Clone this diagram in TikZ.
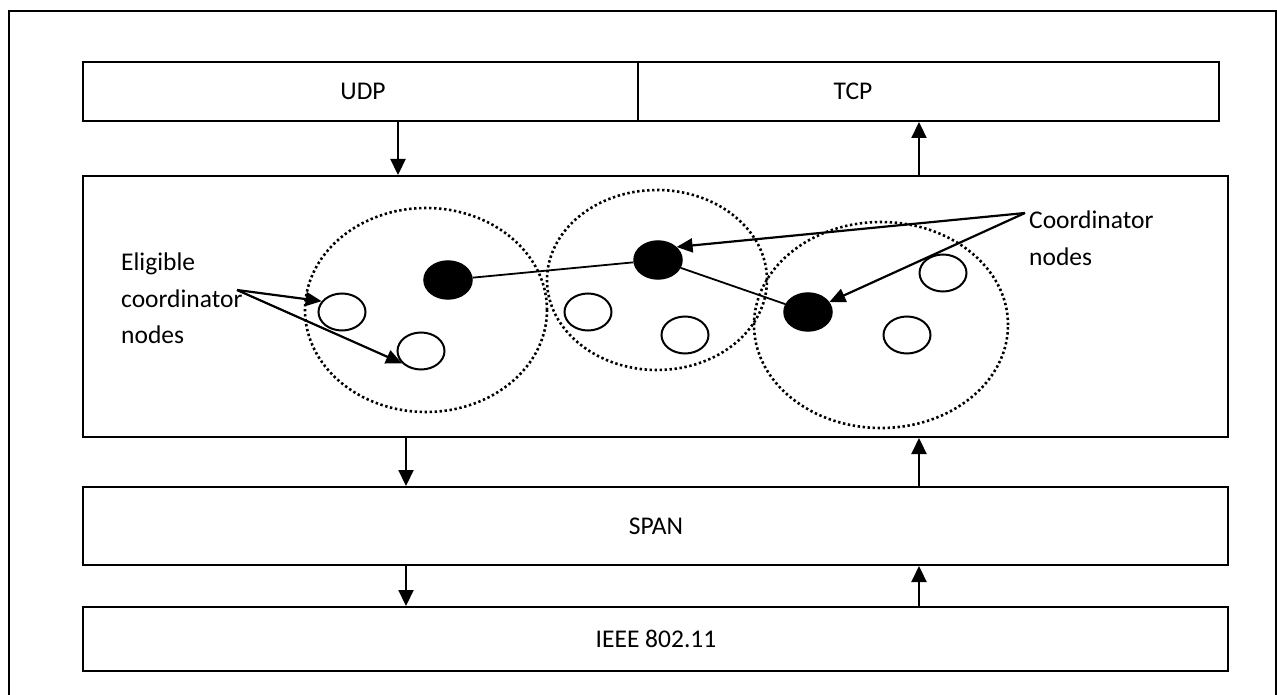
\documentclass[tikz,border=0pt]{standalone}
\usepackage{fontspec}
\setmainfont{Carlito}
\usetikzlibrary{shapes.geometric,arrows.meta}
\begin{document}
\begin{tikzpicture}[x=1pt,y=-1pt,
  box/.style={draw,line width=2pt,rectangle,inner sep=0pt},
  lbl/.style={font=\fontsize{25.5}{36.5}\selectfont,inner sep=0pt},
  ring/.style={draw,ellipse,line width=2.6pt,dash pattern=on 2.4pt off 2.6pt,inner sep=0pt},
  full/.style={ellipse,fill=black,draw,line width=1.5pt,minimum width=48pt,minimum height=38pt,inner sep=0pt},
  empty/.style={ellipse,draw,line width=2pt,minimum width=47pt,minimum height=37pt,inner sep=0pt},
  vflow/.style={line width=2.2pt,-{Triangle[length=16pt,width=15pt]}},
  pointer/.style={line width=2.2pt,-{Triangle[length=16pt,width=14pt]}},
  link/.style={line width=1.8pt}]
\useasboundingbox (0,0) rectangle (1277,695);
% outer frame (open at bottom)
\draw[line width=2pt] (9,696) -- (9,11) -- (1276,11) -- (1276,696);
% layers
\node[box,minimum width=555pt,minimum height=59pt] (udp) at (360.5,91.5) {};
\node[box,minimum width=581pt,minimum height=59pt] (tcp) at (928.5,91.5) {};
\node[box,minimum width=1145pt,minimum height=261pt] (mid) at (655.5,306.5) {};
\node[box,minimum width=1145pt,minimum height=78pt] (span) at (655.5,526) {};
\node[box,minimum width=1145pt,minimum height=64pt] (ieee) at (655.5,639) {};
\node[lbl] (tudp) at (363,91) {UDP};
\node[lbl] (ttcp) at (853,91) {TCP};
\node[lbl] (tspan) at (656,526) {SPAN};
\node[lbl] (tieee) at (656,639) {IEEE 802.11};
% vertical arrows
\coordinate (xa) at (398,0);
\coordinate (xb) at (406,0);
\coordinate (xc) at (919,0);
\draw[vflow] (udp.south -| xa) -- (mid.north -| xa);
\draw[vflow] (mid.north -| xc) -- (tcp.south -| xc);
\draw[vflow] (mid.south -| xb) -- (span.north -| xb);
\draw[vflow] (span.north -| xc) -- (mid.south -| xc);
\draw[vflow] (span.south -| xb) -- (ieee.north -| xb);
\draw[vflow] (ieee.north -| xc) -- (span.south -| xc);
% dotted ranges
\node[ring,minimum width=242pt,minimum height=204pt] (r1) at (426,310) {};
\node[ring,minimum width=220pt,minimum height=180pt] (r2) at (657,280) {};
\node[ring,minimum width=254pt,minimum height=206pt] (r3) at (881,325) {};
% nodes
\node[full] (f1) at (448,280) {};
\node[full] (f2) at (658,260) {};
\node[full] (f3) at (808,312) {};
\node[empty] (o1) at (342,312) {};
\node[empty] (o2) at (421,351) {};
\node[empty] (o3) at (588,312) {};
\node[empty] (o4) at (685,335) {};
\node[empty] (o5) at (943,273) {};
\node[empty] (o6) at (907,335) {};
\draw[link] (f1) -- (f2);
\draw[link] (f2) -- (f3);
% labels
\node[lbl,align=left,anchor=north west] (elig) at (121,253) {Eligible\\coordinator\\nodes};
\node[lbl,align=left,anchor=north west] (coord) at (1029,211) {Coordinator\\nodes};
\coordinate (ea) at (237,290);
\coordinate (ca) at (1025,213);
\draw[pointer] (ea) -- (o1.152);
\draw[pointer] (ea) -- (o2.213);
\draw[pointer] (ca) -- (f2.35);
\draw[pointer] (ca) -- (f3.25);
\end{tikzpicture}
\end{document}
